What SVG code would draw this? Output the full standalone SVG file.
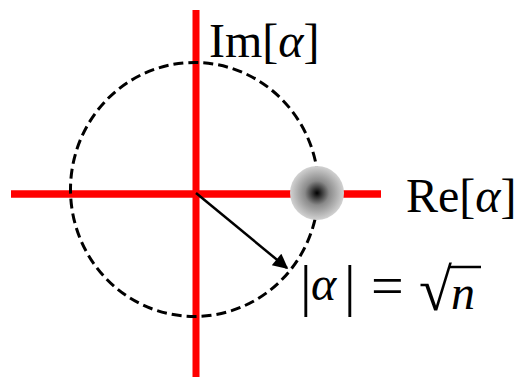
<svg xmlns="http://www.w3.org/2000/svg" width="521" height="377" viewBox="0 0 521 377">
  <style>
    .axis { stroke: #ff0000; fill: none; }
    .lbl { font-family: "Liberation Serif", "DejaVu Serif", serif; font-size: 48px; fill: #000; }
    .it { font-style: italic; }
  </style>
  <defs>
    <radialGradient id="blobGrad" cx="0.5" cy="0.5" r="0.5">
      <stop offset="0" stop-color="#000000"/>
      <stop offset="0.45" stop-color="#8a8a8a"/>
      <stop offset="1" stop-color="#d2d2d2"/>
    </radialGradient>
    <marker id="arrowHead" viewBox="0 0 10 10" refX="9" refY="5" markerWidth="7" markerHeight="6" markerUnits="strokeWidth" orient="auto">
      <path d="M0,0 L10,5 L0,10 z" fill="#000"/>
    </marker>
  </defs>

  <g id="axes">
    <line class="axis" x1="196" y1="10" x2="196" y2="377" stroke-width="7"/>
    <line class="axis" x1="11" y1="194" x2="381" y2="194" stroke-width="7.5"/>
  </g>

  <g id="circle">
    <ellipse cx="194.5" cy="189.5" rx="124" ry="127" fill="none" stroke="#000" stroke-width="3" stroke-dasharray="10 5"/>
  </g>

  <g id="state">
    <circle cx="317" cy="193" r="27" fill="url(#blobGrad)"/>
  </g>

  <g id="connectors">
    <line x1="196" y1="193" x2="287" y2="268" stroke="#000" stroke-width="2.5" marker-end="url(#arrowHead)"/>
  </g>

  <g id="label-im">
    <text class="lbl" x="209" y="57">Im[<tspan class="it">α</tspan>]</text>
  </g>

  <g id="label-re">
    <text class="lbl" x="406" y="212">Re[<tspan class="it">α</tspan>]</text>
  </g>

  <g id="label-radius">
    <text class="lbl" y="305"><tspan x="300" style="font-size:58px">|</tspan><tspan x="311" y="300" class="it">α</tspan><tspan x="344" y="305" style="font-size:58px">|</tspan><tspan x="371" style="font-size:58px">=</tspan><tspan x="419" y="310" style="font-size:60px">√</tspan><tspan x="451" y="309" class="it">n</tspan></text>
    <line x1="449" y1="267" x2="481" y2="267" stroke="#000" stroke-width="2.5"/>
  </g>
</svg>
